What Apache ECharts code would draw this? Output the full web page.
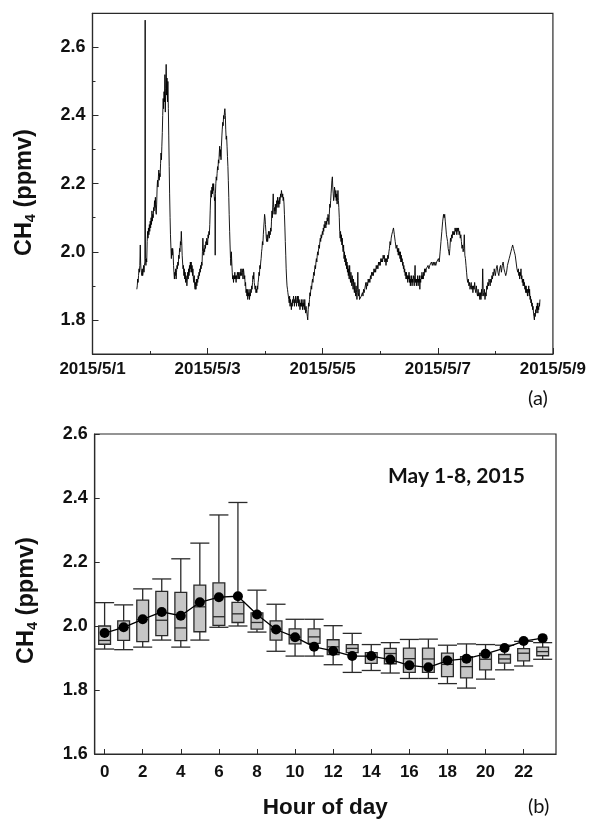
<!DOCTYPE html>
<html>
<head>
<meta charset="utf-8">
<script src="https://cdn.jsdelivr.net/npm/echarts@6/dist/echarts.min.js"></script>
<style>
html,body{margin:0;padding:0;background:#fff;}
#chart{width:589px;height:820px;}
</style>
</head>
<body>
<div id="chart"></div>
<script>
// ---------- Panel (a): CH4 time series (x = days since 2015/5/1 00:00) ----------
const tsDay = [
0.770,0.778,0.785,0.792,0.800,0.808,0.815,0.822,0.830,0.836,0.842,0.850,0.858,0.865,0.872,0.880,0.888,0.895,0.902,0.910,0.915,0.920,0.928,0.935,0.942,
0.950,0.958,0.965,0.972,0.980,0.988,0.995,1.003,1.010,1.018,1.025,1.033,1.040,1.048,1.055,1.063,1.070,1.078,1.085,1.093,1.100,1.108,1.115,1.123,1.130,1.138,1.145,1.153,1.160,1.168,1.175,1.183,1.190,1.198,1.205,1.213,1.220,1.228,1.235,1.243,1.250,1.258,1.265,1.273,1.280,1.288,1.295,1.303,1.310,1.318,1.325,1.333,1.340,1.348,1.355,1.363,1.370,1.378,1.385,1.393,
1.400,1.408,1.415,1.423,1.430,1.438,1.445,1.453,1.460,1.468,1.475,1.483,1.490,1.498,1.505,1.513,1.520,1.528,1.535,1.543,1.550,1.558,1.565,1.573,1.580,1.588,1.595,1.603,1.610,1.618,1.625,1.633,1.640,1.648,1.655,1.663,1.670,1.678,1.685,1.693,1.700,1.708,1.715,1.723,1.730,1.738,1.745,1.753,1.760,1.768,1.775,1.783,1.790,1.798,1.805,1.813,1.820,1.828,1.835,1.843,1.850,1.858,1.865,1.873,1.880,1.888,1.895,1.903,1.910,1.918,1.925,1.933,1.940,1.948,1.955,1.963,1.970,1.978,1.985,
1.993,2.000,2.008,2.015,2.023,2.030,2.038,2.045,2.053,2.060,2.068,2.075,2.083,2.090,2.098,2.105,2.113,2.120,2.128,2.132,2.136,2.143,2.150,2.158,2.165,2.173,2.180,2.188,2.195,2.203,2.210,2.218,2.225,2.233,2.240,2.248,2.255,2.263,2.270,2.278,2.285,2.293,2.300,2.308,2.315,2.323,2.330,2.338,2.345,2.353,2.360,2.368,2.375,2.383,2.390,2.398,2.405,2.413,2.420,2.428,2.435,2.443,
2.450,2.458,2.465,2.473,2.480,2.488,2.495,2.503,2.510,2.518,2.525,2.533,2.540,2.548,2.555,2.563,2.570,2.578,2.585,2.593,2.600,2.608,2.615,2.623,2.630,2.638,2.645,2.653,2.660,2.668,2.675,2.683,2.690,2.698,2.705,2.713,2.720,2.728,2.735,2.743,2.750,2.758,2.765,2.773,2.780,2.788,2.795,2.803,2.810,2.818,2.825,2.833,2.840,2.848,2.855,2.863,2.870,2.878,2.885,2.893,2.900,2.908,2.915,2.923,2.930,2.938,2.945,
2.953,2.960,2.968,2.975,2.983,2.990,2.998,3.005,3.013,3.020,3.028,3.035,3.043,3.050,3.058,3.065,3.073,3.080,3.088,3.095,3.103,3.110,3.118,3.125,3.133,3.140,3.148,3.155,3.163,3.170,3.178,3.185,3.193,3.200,3.208,3.215,3.223,3.230,3.238,3.245,3.253,3.260,3.268,3.275,3.283,3.290,3.298,3.305,3.313,3.320,3.328,3.335,3.343,3.350,3.358,3.365,3.373,3.380,3.388,3.395,
3.403,3.410,3.418,3.425,3.433,3.440,3.448,3.455,3.463,3.470,3.478,3.485,3.493,3.500,3.508,3.515,3.523,3.530,3.538,3.545,3.553,3.560,3.568,3.575,3.583,3.590,3.598,3.605,3.613,3.620,3.628,3.635,3.643,3.650,3.658,3.665,3.673,3.680,3.688,3.695,3.703,3.710,3.718,3.725,3.733,3.740,3.748,3.755,3.763,3.770,3.778,3.785,3.793,
3.800,3.808,3.815,3.823,3.830,3.838,3.845,3.853,3.860,3.868,3.875,3.883,3.890,3.898,3.905,3.913,3.920,3.928,3.935,3.943,3.950,3.958,3.965,3.973,3.980,3.988,3.995,4.003,4.010,4.018,4.025,4.033,4.040,4.048,4.055,4.063,4.070,4.078,4.085,4.093,4.100,4.108,4.115,4.123,4.130,4.138,4.145,4.153,4.160,4.168,4.175,4.183,4.190,4.198,4.205,4.213,4.220,4.228,4.235,
4.243,4.250,4.258,4.265,4.273,4.280,4.288,4.295,4.303,4.310,4.318,4.325,4.333,4.340,4.348,4.355,4.363,4.370,4.378,4.385,4.393,4.400,4.408,4.415,4.423,4.430,4.438,4.445,4.453,4.460,4.468,4.475,4.483,4.490,4.498,4.505,4.513,4.520,4.528,4.535,4.543,4.550,4.558,4.565,4.573,4.580,4.588,4.595,4.603,4.610,4.618,4.625,4.633,4.640,
4.660,4.670,4.680,4.690,4.700,4.710,4.720,4.730,4.740,4.750,4.760,4.770,4.780,4.790,4.800,4.810,4.820,4.830,4.840,4.850,4.860,4.870,4.880,4.890,4.900,4.910,4.920,4.930,4.940,4.950,4.960,4.970,4.980,4.990,5.000,5.010,5.020,5.030,5.040,5.050,5.060,5.070,5.080,5.090,5.100,5.110,5.120,5.130,5.140,5.150,5.160,5.170,5.180,5.190,5.200,5.215,5.230,5.245,5.260,5.275,
5.290,5.298,5.305,5.313,5.320,5.328,5.335,5.343,5.350,5.358,5.365,5.373,5.380,5.388,5.395,5.403,5.410,5.418,5.425,5.433,5.440,5.448,5.455,5.463,5.470,5.478,5.485,5.493,5.500,5.508,5.515,5.523,5.530,5.538,5.545,5.553,5.560,5.568,5.575,5.583,5.590,5.598,5.605,5.613,5.620,5.628,5.635,5.643,5.650,5.658,5.665,5.673,5.680,5.688,5.695,5.703,5.710,5.718,5.725,5.733,5.740,5.748,5.755,5.763,5.770,5.778,5.785,5.793,5.800,5.815,5.830,5.845,5.860,5.875,5.890,5.905,5.920,5.935,5.950,5.965,5.980,5.995,
6.010,6.025,6.040,6.055,6.070,6.085,6.100,6.110,6.120,6.130,6.140,6.150,6.160,6.170,6.180,6.190,6.200,6.210,6.220,6.230,6.240,6.250,6.260,6.270,6.280,6.290,6.300,6.310,6.320,6.330,6.340,6.350,6.360,6.370,6.380,6.390,6.400,6.410,6.420,6.430,6.440,6.450,6.460,6.470,6.480,6.490,6.500,6.510,6.520,6.530,6.540,
6.550,6.560,6.570,6.580,6.590,6.600,6.610,6.620,6.630,6.640,6.650,6.660,6.670,6.680,6.690,6.700,6.710,6.720,6.730,6.740,6.750,6.760,6.770,6.780,6.790,6.800,6.810,6.820,6.830,6.840,6.850,6.860,6.870,6.880,6.890,6.900,6.910,6.920,6.930,6.940,6.950,6.960,6.970,6.980,6.990,7.000,
7.015,7.030,7.045,7.060,7.075,7.090,7.105,7.120,7.135,7.150,7.165,7.180,7.195,7.210,7.225,7.240,7.255,7.270,7.285,7.300,7.315,7.330,7.345,7.360,7.375,7.390,
7.400,7.408,7.415,7.423,7.430,7.438,7.445,7.453,7.460,7.468,7.475,7.483,7.490,7.498,7.505,7.513,7.520,7.528,7.535,7.543,7.550,7.558,7.565,7.573,7.580,7.588,7.595,7.603,7.610,7.618,7.625,7.633,7.640,7.648,7.655,7.663,7.670,7.678,7.685,7.693,7.700,7.708,7.715,7.723,7.730,7.738,7.745,7.753,7.760,7.768,7.775
];
const tsCH4 = [
1.89,1.90,1.92,1.91,1.93,1.95,1.94,1.96,2.02,1.97,1.95,1.94,1.93,1.95,1.93,1.94,1.96,1.94,1.96,1.97,2.68,1.98,1.96,1.98,1.97,
2.03,2.06,2.04,2.07,2.05,2.08,2.06,2.09,2.07,2.10,2.08,2.12,2.09,2.11,2.10,2.13,2.12,2.15,2.13,2.16,2.12,2.11,2.14,2.19,2.21,2.19,2.22,2.24,2.21,2.23,2.22,2.26,2.29,2.27,2.31,2.35,2.40,2.45,2.42,2.47,2.44,2.52,2.41,2.48,2.55,2.46,2.51,2.44,2.50,2.42,2.34,2.25,2.17,2.10,2.05,2.01,1.98,2.01,1.99,2.01,
2.00,1.96,1.94,1.92,1.94,1.93,1.95,1.92,1.94,1.96,1.95,1.97,1.96,1.99,1.98,2.01,2.00,2.03,2.02,2.06,2.03,1.99,1.97,1.95,1.96,1.93,1.95,1.92,1.94,1.91,1.93,1.92,1.90,1.92,1.94,1.92,1.95,1.93,1.96,1.94,1.97,1.95,1.97,1.94,1.96,1.93,1.95,1.92,1.91,1.93,1.90,1.89,1.91,1.89,1.92,1.90,1.92,1.91,1.93,1.92,1.94,1.93,1.95,1.94,1.96,1.95,1.97,1.96,2.00,2.04,2.01,1.99,2.01,2.00,2.02,2.01,2.03,2.02,2.04,
2.03,2.02,2.05,2.04,2.06,2.05,2.08,2.12,2.16,2.18,2.16,2.19,2.17,2.20,2.18,2.20,2.17,2.15,2.16,1.99,2.17,2.20,2.22,2.21,2.23,2.25,2.24,2.27,2.26,2.29,2.31,2.28,2.30,2.27,2.31,2.34,2.36,2.38,2.37,2.40,2.39,2.41,2.42,2.40,2.36,2.33,2.34,2.31,2.28,2.25,2.21,2.16,2.11,2.06,2.02,1.98,1.96,2.00,1.97,1.94,1.92,1.93,
1.91,1.93,1.92,1.94,1.92,1.93,1.91,1.93,1.92,1.94,1.93,1.92,1.94,1.93,1.92,1.94,1.93,1.95,1.94,1.93,1.95,1.94,1.92,1.95,1.94,1.92,1.93,1.90,1.91,1.88,1.89,1.87,1.89,1.86,1.88,1.87,1.89,1.86,1.88,1.87,1.89,1.88,1.90,1.89,1.91,1.93,1.92,1.94,1.91,1.90,1.89,1.90,1.88,1.89,1.88,1.90,1.89,1.91,1.92,1.94,1.93,1.96,1.95,1.97,1.98,2.00,2.01,
2.03,2.02,2.05,2.07,2.09,2.11,2.10,2.08,2.06,2.04,2.03,2.05,2.03,2.04,2.06,2.05,2.04,2.06,2.05,2.07,2.06,2.09,2.12,2.10,2.14,2.17,2.13,2.11,2.13,2.12,2.14,2.11,2.12,2.15,2.13,2.16,2.14,2.15,2.13,2.16,2.14,2.15,2.17,2.16,2.18,2.17,2.16,2.17,2.15,2.16,2.14,2.11,2.07,2.03,1.99,1.95,1.92,1.90,1.89,1.88,
1.87,1.86,1.85,1.87,1.84,1.86,1.85,1.83,1.85,1.84,1.86,1.85,1.87,1.86,1.84,1.86,1.85,1.87,1.86,1.84,1.86,1.87,1.85,1.87,1.84,1.86,1.85,1.83,1.85,1.84,1.86,1.84,1.85,1.83,1.86,1.84,1.85,1.83,1.86,1.84,1.82,1.84,1.83,1.82,1.81,1.80,1.83,1.85,1.84,1.86,1.88,1.87,1.89,
1.90,1.89,1.91,1.92,1.91,1.93,1.94,1.93,1.95,1.96,1.95,1.97,1.98,1.97,1.99,2.00,1.99,2.01,2.02,2.01,2.03,2.04,2.03,2.05,2.04,2.05,2.06,2.05,2.07,2.06,2.08,2.07,2.09,2.08,2.07,2.09,2.08,2.10,2.09,2.11,2.10,2.08,2.11,2.14,2.13,2.15,2.17,2.19,2.21,2.22,2.19,2.17,2.15,2.16,2.19,2.18,2.16,2.18,2.15,
2.17,2.14,2.16,2.18,2.15,2.13,2.10,2.06,2.04,2.06,2.03,2.05,2.02,2.04,2.01,2.00,2.02,1.98,2.00,1.97,1.99,1.96,1.98,1.95,1.97,1.94,1.96,1.93,1.95,1.92,1.96,1.93,1.91,1.94,1.92,1.90,1.93,1.91,1.89,1.92,1.90,1.88,1.91,1.89,1.87,1.90,1.88,1.86,1.89,1.94,1.88,1.87,1.89,1.86,
1.86,1.87,1.87,1.88,1.87,1.89,1.88,1.89,1.89,1.91,1.89,1.91,1.90,1.92,1.91,1.92,1.91,1.93,1.92,1.94,1.93,1.94,1.93,1.95,1.94,1.95,1.94,1.96,1.95,1.96,1.95,1.97,1.96,1.97,1.96,1.98,1.97,1.98,1.97,1.99,1.98,1.99,1.97,1.98,1.96,1.98,1.97,1.99,1.98,2.00,2.01,2.03,2.02,2.04,2.05,2.06,2.07,2.05,2.03,2.01,
2.02,2.00,2.01,1.99,2.01,1.99,2.00,1.98,2.00,1.97,1.99,1.97,1.98,1.96,1.97,1.95,1.96,1.94,1.95,1.93,1.94,1.92,1.94,1.92,1.93,1.91,1.93,1.92,1.94,1.91,1.93,1.90,1.92,1.91,1.93,1.90,1.92,1.91,1.93,1.92,1.90,1.93,1.96,1.91,1.92,1.90,1.92,1.91,1.93,1.90,1.92,1.91,1.93,1.89,1.92,1.91,1.93,1.92,1.94,1.92,1.93,1.92,1.94,1.93,1.95,1.94,1.95,1.94,1.95,1.95,1.96,1.95,1.96,1.96,1.97,1.96,1.97,1.96,1.97,1.96,1.97,1.97,
1.98,1.97,2.00,2.03,2.06,2.09,2.11,2.10,2.11,2.09,2.07,2.05,2.04,2.03,2.01,2.00,1.99,2.01,2.04,2.03,2.05,2.04,2.06,2.05,2.06,2.05,2.07,2.06,2.07,2.05,2.07,2.06,2.07,2.05,2.06,2.04,2.05,2.03,2.01,2.02,2.00,2.01,2.05,1.99,1.98,1.96,1.94,1.92,1.91,1.92,1.90,
1.91,1.89,1.90,1.91,1.89,1.90,1.88,1.90,1.89,1.91,1.89,1.88,1.90,1.88,1.87,1.89,1.87,1.88,1.86,1.88,1.86,1.89,1.87,1.95,1.88,1.87,1.89,1.86,1.88,1.87,1.90,1.89,1.91,1.90,1.92,1.91,1.90,1.92,1.91,1.93,1.92,1.94,1.93,1.95,1.94,1.93,
1.95,1.96,1.94,1.93,1.95,1.96,1.94,1.96,1.97,1.95,1.94,1.93,1.94,1.96,1.97,1.98,1.99,2.00,2.01,2.02,2.01,2.00,1.99,1.97,1.95,1.94,
1.95,1.93,1.94,1.92,1.94,1.93,1.95,1.92,1.93,1.91,1.92,1.90,1.92,1.90,1.91,1.89,1.90,1.88,1.90,1.88,1.89,1.87,1.89,1.88,1.90,1.87,1.89,1.86,1.87,1.85,1.86,1.84,1.85,1.83,1.84,1.82,1.81,1.80,1.82,1.81,1.83,1.82,1.84,1.83,1.85,1.82,1.84,1.83,1.85,1.84,1.86
];
const dateLabels = ['2015/5/1','2015/5/3','2015/5/5','2015/5/7','2015/5/9'];
const dateLabelDays = [0,2,4,6,8];
const yTicksTop = [1.8,2.0,2.2,2.4,2.6];
const yMinorTop = [1.7,1.9,2.1,2.3,2.5,2.7];

// ---------- Panel (b): diurnal box plots ----------
const hours       = [0,1,2,3,4,5,6,7,8,9,10,11,12,13,14,15,16,17,18,19,20,21,22,23];
const whiskerLow  = [1.928,1.926,1.934,1.956,1.934,1.956,1.996,2.000,1.981,1.921,1.906,1.906,1.879,1.855,1.861,1.853,1.836,1.836,1.820,1.806,1.834,1.863,1.875,1.896];
const boxQ1       = [1.943,1.955,1.951,1.970,1.954,1.982,2.002,2.011,1.990,1.956,1.944,1.946,1.911,1.917,1.883,1.882,1.855,1.855,1.842,1.838,1.863,1.884,1.891,1.907];
const boxMedian   = [1.955,1.995,2.020,2.018,1.994,2.060,2.029,2.038,2.011,1.990,1.965,1.966,1.935,1.930,1.905,1.914,1.898,1.897,1.880,1.873,1.896,1.897,1.915,1.920];
const boxQ3       = [2.000,2.016,2.081,2.108,2.105,2.128,2.135,2.074,2.041,2.016,1.991,1.991,1.957,1.942,1.917,1.930,1.931,1.931,1.915,1.904,1.914,1.911,1.929,1.934];
const whiskerHigh = [2.073,2.066,2.116,2.147,2.210,2.259,2.347,2.386,2.112,2.068,2.021,2.021,2.001,1.977,1.942,1.948,1.958,1.959,1.940,1.944,1.942,1.940,1.952,1.948];
const hourMean    = [1.978,1.996,2.021,2.044,2.032,2.074,2.090,2.093,2.036,1.989,1.965,1.935,1.922,1.906,1.906,1.895,1.877,1.871,1.892,1.898,1.913,1.931,1.953,1.962];
const hourTicks = [0,2,4,6,8,10,12,14,16,18,20,22];

const AX = '#2a2a2a';
const tickFont = {fontFamily:'Liberation Sans, Arial, sans-serif', fontWeight:'bold', color:'#111'};
const chName = '{a|CH}{s|4}{a| (ppmv)}';
const chRich = {
  a:{fontFamily:'Liberation Sans, Arial, sans-serif', fontWeight:'bold', fontSize:23.5, color:'#111', lineHeight:28},
  s:{fontFamily:'Liberation Sans, Arial, sans-serif', fontWeight:'bold', fontSize:14.5, color:'#111', lineHeight:10, verticalAlign:'bottom'}
};

const chart = echarts.init(document.getElementById('chart'), null, {renderer:'canvas'});
const option = {
  animation:false,
  backgroundColor:'#fff',
  grid:[
    {left:92.5, top:13.3, width:460.5, height:340.7, show:true, borderColor:AX, borderWidth:1.2},
    {left:94.7, top:434, width:461.3, height:321.7, show:true, borderColor:AX, borderWidth:1.2}
  ],
  xAxis:[
    {type:'value', gridIndex:0, min:0, max:8, interval:2,
     axisLine:{onZero:false, lineStyle:{color:AX, width:1.2}},
     axisTick:{inside:true, length:6, lineStyle:{color:AX}},
     minorTick:{show:true, splitNumber:2, length:3, lineStyle:{color:AX}},
     splitLine:{show:false}, minorSplitLine:{show:false},
     axisLabel:Object.assign({fontSize:17, margin:7, showMinLabel:true, showMaxLabel:true,
       formatter:v=>{const i=dateLabelDays.indexOf(Math.round(v)); return i>=0?dateLabels[i]:'';}}, tickFont)},
    {type:'value', gridIndex:1, min:-0.52, max:23.7,
     axisLine:{onZero:false, lineStyle:{color:AX, width:1.2}},
     axisTick:{inside:true, length:5, customValues:hourTicks, lineStyle:{color:AX}},
     splitLine:{show:false},
     axisLabel:Object.assign({fontSize:17, margin:10, customValues:hourTicks, formatter:v=>String(v)}, tickFont),
     name:'Hour of day', nameLocation:'middle', nameGap:42,
     nameTextStyle:{fontFamily:'Liberation Sans, Arial, sans-serif', fontWeight:'bold', fontSize:22.5, color:'#111'}}
  ],
  yAxis:[
    {type:'value', gridIndex:0, min:1.7, max:2.7,
     axisLine:{show:true, onZero:false, lineStyle:{color:AX, width:1.2}},
     axisTick:{inside:true, length:6, customValues:yTicksTop, lineStyle:{color:AX}},
     splitLine:{show:false},
     axisLabel:Object.assign({fontSize:18, margin:7, customValues:yTicksTop, formatter:v=>v.toFixed(1)}, tickFont),
     name:chName, nameLocation:'middle', nameGap:54, nameRotate:90,
     nameTextStyle:{rich:chRich, padding:[0,18,0,0]}},
    {type:'value', gridIndex:0, min:1.7, max:2.7, position:'left', offset:0,
     axisLine:{show:false, onZero:false},
     axisTick:{inside:true, length:3, customValues:yMinorTop, lineStyle:{color:AX}},
     splitLine:{show:false}, axisLabel:{show:false}},
    {type:'value', gridIndex:1, min:1.6, max:2.6, interval:0.2,
     axisLine:{show:true, onZero:false, lineStyle:{color:AX, width:1.2}},
     axisTick:{inside:true, length:5, lineStyle:{color:AX}},
     splitLine:{show:false},
     axisLabel:Object.assign({fontSize:18, margin:7, formatter:v=>v.toFixed(1)}, tickFont),
     name:chName, nameLocation:'middle', nameGap:54, nameRotate:90,
     nameTextStyle:{rich:chRich, padding:[0,13,0,0]}}
  ],
  series:[
    {type:'line', xAxisIndex:0, yAxisIndex:0, showSymbol:false, symbol:'none',
     data:tsDay.map((d,i)=>[d, tsCH4[i]]),
     lineStyle:{color:'#000', width:0.9}},
    {type:'custom', xAxisIndex:1, yAxisIndex:2, z:2,
     data:hours.map((h,i)=>[h, whiskerLow[i], boxQ1[i], boxMedian[i], boxQ3[i], whiskerHigh[i]]),
     encode:{x:0, y:[1,2,3,4,5]},
     renderItem:function(params, api){
       const h = api.value(0);
       const pLo = api.coord([h, api.value(1)]);
       const pQ1 = api.coord([h, api.value(2)]);
       const pMd = api.coord([h, api.value(3)]);
       const pQ3 = api.coord([h, api.value(4)]);
       const pHi = api.coord([h, api.value(5)]);
       const bw = api.size([0.62, 0])[0];
       const cw = api.size([1.0, 0])[0];
       const x = pMd[0];
       const st = {stroke:'#2a2a2a', lineWidth:1.3};
       const L = (x1,y1,x2,y2)=>({type:'line', shape:{x1:x1,y1:y1,x2:x2,y2:y2}, style:st});
       return {type:'group', children:[
         L(x, pQ3[1], x, pHi[1]),
         L(x, pQ1[1], x, pLo[1]),
         L(x-cw/2, pHi[1], x+cw/2, pHi[1]),
         L(x-cw/2, pLo[1], x+cw/2, pLo[1]),
         {type:'rect', shape:{x:x-bw/2, y:pQ3[1], width:bw, height:pQ1[1]-pQ3[1]},
          style:{fill:'#c6c6c6', stroke:'#2a2a2a', lineWidth:1.3}},
         L(x-bw/2, pMd[1], x+bw/2, pMd[1])
       ]};
     }},
    {type:'line', xAxisIndex:1, yAxisIndex:2, z:5,
     data:hours.map((h,i)=>[h, hourMean[i]]),
     symbol:'circle', symbolSize:10, showSymbol:true,
     itemStyle:{color:'#000'}, lineStyle:{color:'#000', width:1.3}}
  ],
  graphic:[
    {type:'text', left:388, top:466, style:{text:'May 1-8, 2015', font:'bold 21px Lato, "Open Sans", sans-serif', fill:'#111'}},
    {type:'text', left:528, top:389, style:{text:'(a)', font:'20px Lato, "Open Sans", sans-serif', fill:'#111'}},
    {type:'text', left:528, top:797, style:{text:'(b)', font:'20px Lato, "Open Sans", sans-serif', fill:'#111'}}
  ]
};
chart.setOption(option);
</script>
</body>
</html>
